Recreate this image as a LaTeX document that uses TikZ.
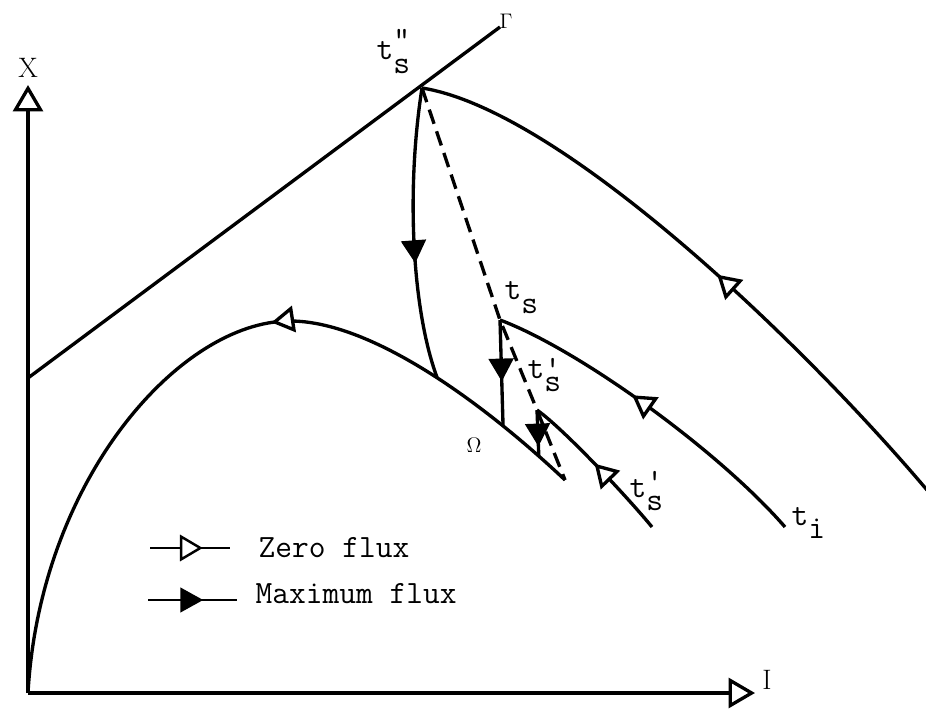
\documentclass[tikz,border=0pt]{standalone}
\usepackage{fontspec}
\usepackage{tikz}
\usetikzlibrary{arrows.meta,decorations.markings}

% t with a lowered subscript and an optional mark above it
\newcommand{\tlab}[3][0.7em]{t\raisebox{-0.43em}{\rlap{\raisebox{#1}{#3}}#2}}

\begin{document}
\begin{tikzpicture}[
  x=0.02cm, y=-0.02cm, line width=1.9pt,
  zeroflux/.style={postaction={decorate, decoration={markings,
      mark=at position #1 with {\arrow{Triangle[fill=white, length=13pt, width=15pt]}}}}},
  maxflux/.style={postaction={decorate, decoration={markings,
      mark=at position #1 with {\arrow{Triangle[length=13pt, width=14pt]}}}}},
  axis/.style={-{Triangle[open, length=15pt, width=17pt]}},
  lbl/.style={inner sep=0pt, anchor=base west, font=\ttfamily\fontsize{18.5}{21}\selectfont},
  sym/.style={inner sep=0pt, font=\fontsize{16}{18}\selectfont},
  legend/.style={inner sep=0pt, anchor=base west, font=\ttfamily\fontsize{18.5}{21}\selectfont}
]
\useasboundingbox (0,0) rectangle (926,709);

\coordinate (O)     at (28,693);
\coordinate (Xtop)  at (28,85);
\coordinate (Iend)  at (755,693);
\coordinate (G0)    at (28,378);
\coordinate (G1)    at (500,27);
\coordinate (tss)   at (422,88);
\coordinate (ts)    at (500,320);
\coordinate (tsp)   at (537,410);
\coordinate (peak)  at (290,321);
\coordinate (omend) at (565,480);
\coordinate (e1)    at (927,490);
\coordinate (ti)    at (785,527);
\coordinate (e3)    at (652,527);

% axes and the line Gamma
\draw[axis] (O) -- (Xtop);
\draw[axis] (O) -- (Iend);
\draw (G0) -- (G1);

% the curve Omega
\draw[zeroflux=0.42] (omend) .. controls (480,400) and (370,321) ..
  coordinate[pos=0.1] (om3) coordinate[pos=0.23] (om2) coordinate[pos=0.46] (om1) (peak)
  .. controls (180,321) and (40,480) .. (O);

% trajectories
\draw[zeroflux=0.46] (e1) .. controls (800,340) and (560,110) .. (tss);
\draw[maxflux=0.6] (tss) .. controls (406,190) and (412,310) .. (om1);
\draw[dashed, dash pattern=on 8.5pt off 4.5pt] (tss) -- (ts) -- (tsp) -- (omend);
\draw[zeroflux=0.57] (ti) .. controls (720,452) and (580,350) .. (ts);
\draw[maxflux=0.58] (ts) -- (om2);
\draw[zeroflux=0.52] (e3) .. controls (630,500) and (565,430) .. (tsp);
\draw[maxflux=0.79] (tsp) -- (om3);

% labels
\node[sym] (xl) at (28,68) {X};
\node[sym] (il) at (767,680) {I};
\node[sym, font=\fontsize{12}{14}\selectfont] (gl) at (506,21) {$\Gamma$};
\node[sym, font=\fontsize{12}{14}\selectfont] (oml) at (474,445) {$\Omega$};
\node[lbl] (tssl)  at (375,60)  {\tlab[0.74em]{s}{"}};
\node[lbl] (tsl)   at (503,300) {\tlab{s}{}};
\node[lbl] (tspl)  at (526,378) {\tlab[0.4em]{s}{'}};
\node[lbl] (tspl2) at (628,497) {\tlab[0.6em]{s}{'}};
\node[lbl] (til)   at (790,525) {\tlab{i}{}};

% legend
\coordinate (z0) at (150,548);
\coordinate (z1) at (230,548);
\coordinate (m0) at (148,600);
\coordinate (m1) at (237,600);
\draw[zeroflux=0.66, line width=1.4pt] (z0) -- (z1);
\draw[maxflux=0.62, line width=1.4pt] (m0) -- (m1);
\node[legend] (zl) at (257,557) {Zero flux};
\node[legend] (ml) at (254,603) {Maximum flux};
\end{tikzpicture}
\end{document}
